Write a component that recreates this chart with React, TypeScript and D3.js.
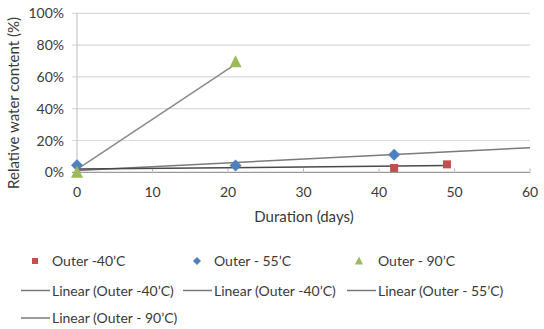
import React from "react";
import * as d3 from "d3";

const xTicks = [0, 10, 20, 30, 40, 50, 60];
const yTicks = [0, 0.2, 0.4, 0.6, 0.8, 1.0];

const outer40Days = [42, 49];
const outer40Values = [0.027, 0.05];
const outer55Days = [0, 21, 42];
const outer55Values = [0.045, 0.042, 0.11];
const outer90Days = [0, 21];
const outer90Values = [0.0, 0.695];

// trend line endpoints [day, value]
const trend40 = [[0, 0.02], [49, 0.042]];
const trend55 = [[0, 0.012], [60, 0.155]];
const trend90 = [[0, 0.018], [21, 0.68]];

const legendRow1 = ["Outer -40’C", "Outer - 55’C", "Outer - 90’C"];
const legendRow2 = ["Linear (Outer -40’C)", "Linear (Outer -40’C)", "Linear (Outer - 55’C)"];
const legendRow3 = ["Linear (Outer - 90’C)"];

const RED = "#c0504d";
const BLUE = "#4f81bd";
const GREEN = "#9bbb59";
const FONT = "Lato, 'Open Sans', sans-serif";

export default function App() {
  const W = 544, H = 329;
  const x = d3.scaleLinear().domain([0, 60]).range([77, 530]);
  const y = d3.scaleLinear().domain([0, 1]).range([172.3, 13.3]);
  const line = d3.line<number[]>().x(d => x(d[0])).y(d => y(d[1]));
  const pct = d3.format(".0%");

  const square = (cx: number, cy: number, s: number, c: string, k: string) => (
    <rect key={k} x={cx - s / 2} y={cy - s / 2} width={s} height={s} fill={c} />
  );
  const diamond = (cx: number, cy: number, s: number, c: string, k: string) => (
    <path key={k} d={`M${cx},${cy - s / 2}L${cx + s / 2},${cy}L${cx},${cy + s / 2}L${cx - s / 2},${cy}Z`} fill={c} />
  );
  const triangle = (cx: number, cy: number, s: number, c: string, k: string) => (
    <path key={k} d={`M${cx},${cy - s * 0.55}L${cx + s / 2},${cy + s * 0.45}L${cx - s / 2},${cy + s * 0.45}Z`} fill={c} />
  );

  const legCols = [21, 183, 347];
  const markerCols = [35, 197, 359];
  const TXT = "#3a3a3a";

  return (
    <svg width={W} height={H} style={{ position: "absolute", left: 0, top: 0, background: "#fff" }} fontFamily={FONT}>
      {yTicks.map(t => (
        <line key={"g" + t} x1={72} x2={530} y1={y(t)} y2={y(t)} stroke={t === 0 ? "#9a9a9a" : "#d9d9d9"} strokeWidth={1.2} />
      ))}
      <line x1={x(0)} x2={x(0)} y1={y(1)} y2={y(0)} stroke="#bcbcbc" strokeWidth={1} />
      {xTicks.map(t => (
        <line key={"xt" + t} x1={x(t)} x2={x(t)} y1={y(0) - 4} y2={y(0) + 1} stroke="#bcbcbc" strokeWidth={1} />
      ))}
      {yTicks.map(t => (
        <text key={"yl" + t} x={64} y={y(t) + 5} textAnchor="end" fontSize={14} fill={TXT}>{pct(t)}</text>
      ))}
      {xTicks.map(t => (
        <text key={"xl" + t} x={x(t)} y={197} textAnchor="middle" fontSize={14} fill={TXT}>{t}</text>
      ))}
      <text x={304} y={222} textAnchor="middle" fontSize={15} fill={TXT}>Duration (days)</text>
      <text transform="translate(19,103) rotate(-90)" textAnchor="middle" fontSize={15} fill={TXT}>Relative water content (%)</text>

      <path d={line(trend90) || ""} fill="none" stroke="#8a8a8a" strokeWidth={1.5} />
      <path d={line(trend55) || ""} fill="none" stroke="#7a7a7a" strokeWidth={1.5} />
      <path d={line(trend40) || ""} fill="none" stroke="#4a4a4a" strokeWidth={1.5} />

      {outer40Days.map((d, i) => square(x(d), y(outer40Values[i]), 8, RED, "r" + i))}
      {outer55Days.map((d, i) => diamond(x(d), y(outer55Values[i]), 12, BLUE, "b" + i))}
      {outer90Days.map((d, i) => triangle(x(d), y(outer90Values[i]), 12, GREEN, "g" + i))}

      {square(markerCols[0], 261, 6, RED, "lr")}
      {diamond(markerCols[1], 261, 8, BLUE, "lb")}
      {triangle(markerCols[2], 261, 8, GREEN, "lg")}
      {legendRow1.map((t, i) => (
        <text key={"l1" + i} x={legCols[i] + 31} y={266} fontSize={14} fill={TXT}>{t}</text>
      ))}
      {legendRow2.map((t, i) => (
        <g key={"l2" + i}>
          <line x1={legCols[i]} x2={legCols[i] + 29} y1={290.5} y2={290.5} stroke="#7a7a7a" strokeWidth={1.5} />
          <text x={legCols[i] + 31} y={295.5} fontSize={14} fill={TXT}>{t}</text>
        </g>
      ))}
      {legendRow3.map((t, i) => (
        <g key={"l3" + i}>
          <line x1={legCols[i]} x2={legCols[i] + 29} y1={318} y2={318} stroke="#7a7a7a" strokeWidth={1.5} />
          <text x={legCols[i] + 31} y={323} fontSize={14} fill={TXT}>{t}</text>
        </g>
      ))}
    </svg>
  );
}
